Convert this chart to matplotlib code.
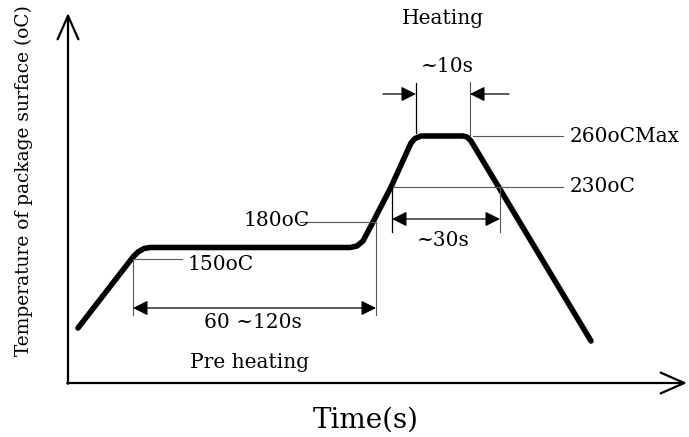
import matplotlib
matplotlib.use("Agg")
import matplotlib.pyplot as plt

# Reflow profile (schematic units: time to the right, temperature up,
# origin at the corner of the two axes)
profile_t = [10, 65, 70, 76, 82, 282, 289, 295, 305, 323, 343, 347, 353,
             395, 399, 403, 523]
profile_T = [55, 126, 131, 134.5, 135.5, 135.5, 137, 142, 161, 196, 240,
             244.5, 247, 247, 246, 242, 42]

# key levels and times of the profile
T_150 = 124
T_180 = 161
T_230 = 196
T_260 = 247
t_pre_start = 65
t_pre_end = 308
t_230_in = 324
t_230_out = 432
t_peak_in = 348
t_peak_out = 402

# dimension rows / leader ends
row_pre = 75
row_230 = 164
row_peak = 289
pre_bottom = 68
span_230_bottom = 151
peak_top = 300
leader_150_end = 114
leader_180_start = 232
leader_right_end = 495
leader_260_start = 405
peak_arrow_left = 315
peak_arrow_right = 441

axis_x_end = 619
axis_y_end = 370

labels = ["Heating", "~10s", "260oCMax", "230oC", "~30s", "180oC",
          "150oC", "60 ~120s", "Pre heating"]

fig = plt.figure(figsize=(6.89, 4.37), dpi=100)
ax = fig.add_axes([0, 0, 1, 1])
ax.set_xlim(-68, 621)
ax.set_ylim(-54, 383)
ax.axis("off")

serif = "DejaVu Serif"
lead = dict(color="#555555", lw=0.8)
dim = dict(color="black", lw=0.9)

# axes with open arrow heads
axis_style = dict(arrowstyle="->,head_length=1.7,head_width=0.75",
                  lw=1.6, color="black", shrinkA=0, shrinkB=0,
                  mutation_scale=10)
ax.annotate("", xy=(0, axis_y_end), xytext=(0, -0.8), arrowprops=axis_style)
ax.annotate("", xy=(axis_x_end, 0), xytext=(-0.8, 0), arrowprops=axis_style)

# profile curve
ax.plot(profile_t, profile_T, color="black", lw=4.0,
        solid_capstyle="round", solid_joinstyle="round")

# leader lines
ax.plot([t_pre_start, leader_150_end], [T_150, T_150], **lead)
ax.plot([t_pre_start, t_pre_start], [T_150, pre_bottom], **lead)
ax.plot([leader_180_start, t_pre_end], [T_180, T_180], **lead)
ax.plot([t_pre_end, t_pre_end], [T_180, pre_bottom], **lead)
ax.plot([leader_260_start, leader_right_end], [T_260, T_260], **lead)
ax.plot([t_230_in, leader_right_end], [T_230, T_230], **lead)
ax.plot([t_230_in, t_230_in], [T_230, span_230_bottom], **dim)
ax.plot([t_230_out, t_230_out], [T_230, span_230_bottom], **lead)
ax.plot([t_peak_in, t_peak_in], [peak_top, T_260 + 3], **dim)
ax.plot([t_peak_out, t_peak_out], [peak_top + 1, T_260], **lead)

# dimension arrows
both = dict(arrowstyle="<|-|>,head_length=0.9,head_width=0.45",
            color="black", lw=0.9, shrinkA=0, shrinkB=0, mutation_scale=10)
one = dict(arrowstyle="-|>,head_length=0.9,head_width=0.45",
           color="black", lw=0.9, shrinkA=0, shrinkB=0, mutation_scale=10)
ax.annotate("", xy=(t_pre_end, row_pre), xytext=(t_pre_start, row_pre),
            arrowprops=both)
ax.annotate("", xy=(t_230_out, row_230), xytext=(t_230_in, row_230),
            arrowprops=both)
ax.annotate("", xy=(t_peak_in, row_peak), xytext=(peak_arrow_left, row_peak),
            arrowprops=one)
ax.annotate("", xy=(t_peak_out, row_peak), xytext=(peak_arrow_right, row_peak),
            arrowprops=one)

# texts
fs = 14.5
ax.text(375, 365, labels[0], ha="center", va="center", fontsize=fs, family=serif)
ax.text(379, 317, labels[1], ha="center", va="center", fontsize=fs, family=serif)
ax.text(502, T_260, labels[2], ha="left", va="center", fontsize=fs, family=serif)
ax.text(502, T_230, labels[3], ha="left", va="center", fontsize=fs, family=serif)
ax.text(375, 143, labels[4], ha="center", va="center", fontsize=fs, family=serif)
ax.text(175, T_180 + 1, labels[5], ha="left", va="center", fontsize=fs, family=serif)
ax.text(120, 118, labels[6], ha="left", va="center", fontsize=fs, family=serif)
ax.text(185, 61, labels[7], ha="center", va="center", fontsize=fs, family=serif)
ax.text(182, 21, labels[8], ha="center", va="center", fontsize=fs, family=serif)

ax.text(298, -37, "Time(s)", ha="center", va="center", fontsize=20, family=serif)
ax.text(-44, 202, "Temperature of package surface (oC)", rotation=90,
        ha="center", va="center", fontsize=13.4, family=serif)

plt.savefig("out.png", dpi=100)
plt.close()
